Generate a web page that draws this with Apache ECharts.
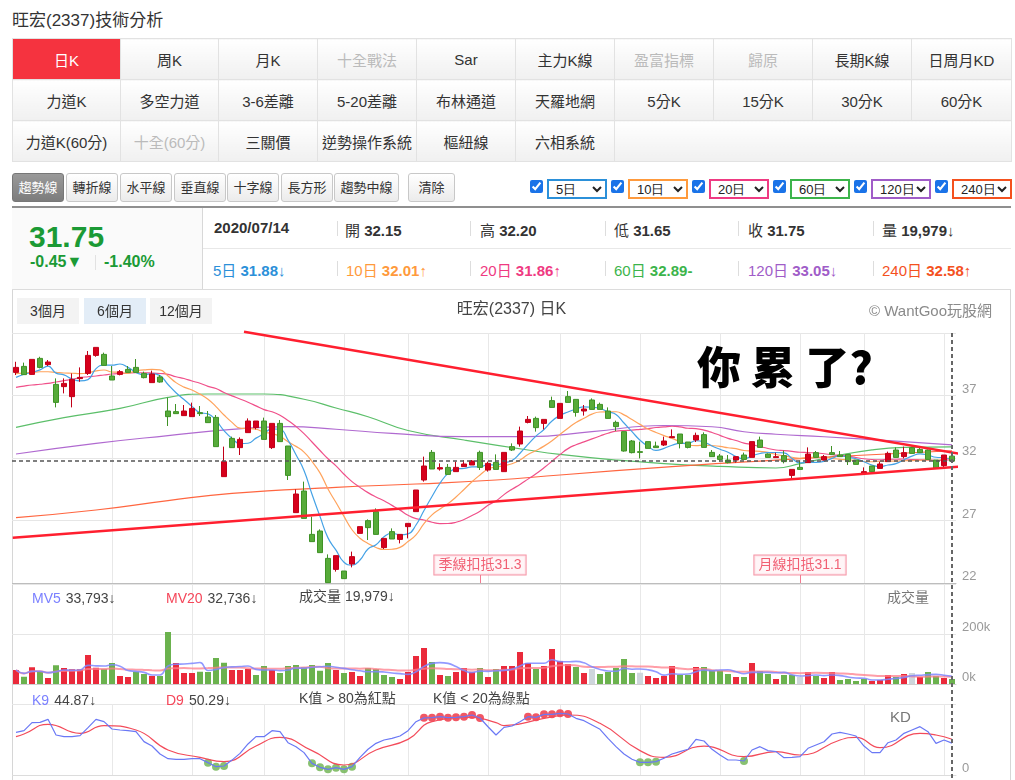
<!DOCTYPE html>
<html>
<head>
<meta charset="utf-8">
<title>旺宏(2337)技術分析</title>
<script src="https://cdn.jsdelivr.net/npm/echarts@6.0.0/dist/echarts.min.js"></script>
<style>
  body { margin: 0; background: #fff; color: #333; font-family: Arial, "Liberation Sans", "Noto Sans CJK TC", sans-serif; }
  .abs { position: absolute; }
  #pageTitle { left: 12px; top: 6px; font-size: 17px; color: #333; }
  table.nav { position: absolute; left: 12px; top: 38px; width: 999px; border-collapse: collapse; table-layout: fixed; border: 1px solid #c9c9c9; }
  .nav td { height: 40px; padding: 0; border: 1px solid #e2e2e2; text-align: center; font-size: 15px; color: #333; background: linear-gradient(#fff, #f0f0f0); }
  .nav td.on { background: #f5333f; color: #fff; }
  .nav td.off { color: #bbb; }
  .nav td.blank { border-left: none; }
  .tool { position: absolute; top: 173px; height: 27px; line-height: 27px; border: 1px solid #c8c8c8; border-radius: 3px; background: linear-gradient(#fff, #ebebeb); font-size: 13px; text-align: center; color: #333; }
  .tool.on { background: linear-gradient(#9a9a9a, #7c7c7c); color: #fff; border-color: #777; }
  .chk { position: absolute; top: 180px; width: 13px; height: 13px; margin: 0; accent-color: #1a73e8; }
  .sel { position: absolute; top: 179px; width: 60px; height: 20px; font-size: 13px; padding: 0 0 0 3px; border-radius: 0; background: #fff; color: #222; }
  .info { position: absolute; font-size: 15px; white-space: nowrap; }
  .info b { font-weight: bold; }
  .vdiv { position: absolute; width: 1px; height: 15px; background: #ddd; }
  .rng { position: absolute; top: 298px; width: 62px; height: 26px; line-height: 26px; font-size: 14px; text-align: center; background: #f3f3f3; color: #333; z-index: 3; }
</style>
</head>
<body>
<div id="pageTitle" class="abs">旺宏(2337)技術分析</div>

<table class="nav">
  <colgroup>
    <col style="width:108px"><col style="width:98px"><col style="width:99px"><col style="width:99px"><col style="width:99px">
    <col style="width:99px"><col style="width:99px"><col style="width:99px"><col style="width:99px"><col style="width:100px">
  </colgroup>
  <tr><td class="on">日K</td><td>周K</td><td>月K</td><td class="off">十全戰法</td><td>Sar</td><td>主力K線</td><td class="off">盈富指標</td><td class="off">歸原</td><td>長期K線</td><td>日周月KD</td></tr>
  <tr><td>力道K</td><td>多空力道</td><td>3-6差離</td><td>5-20差離</td><td>布林通道</td><td>天羅地網</td><td>5分K</td><td>15分K</td><td>30分K</td><td>60分K</td></tr>
  <tr><td>力道K(60分)</td><td class="off">十全(60分)</td><td>三關價</td><td>逆勢操作系統</td><td>樞紐線</td><td>六相系統</td><td class="blank" colspan="4"></td></tr>
</table>

<div class="tool on" style="left:12px;width:50px">趨勢線</div>
<div class="tool" style="left:66px;width:50px">轉折線</div>
<div class="tool" style="left:120px;width:50px">水平線</div>
<div class="tool" style="left:174px;width:50px">垂直線</div>
<div class="tool" style="left:227px;width:50px">十字線</div>
<div class="tool" style="left:281px;width:50px">長方形</div>
<div class="tool" style="left:334px;width:63px">趨勢中線</div>
<div class="tool" style="left:408px;width:45px">清除</div>

<input type="checkbox" class="chk" style="left:530px" checked><select class="sel" style="left:547px;border:2px solid #2b90d9"><option>5日</option></select>
<input type="checkbox" class="chk" style="left:611px" checked><select class="sel" style="left:628px;border:2px solid #ff9a3c"><option>10日</option></select>
<input type="checkbox" class="chk" style="left:692px" checked><select class="sel" style="left:709px;border:2px solid #ef3a82"><option>20日</option></select>
<input type="checkbox" class="chk" style="left:773px" checked><select class="sel" style="left:790px;border:2px solid #3cb44b"><option>60日</option></select>
<input type="checkbox" class="chk" style="left:854px" checked><select class="sel" style="left:871px;border:2px solid #a05cc8"><option>120日</option></select>
<input type="checkbox" class="chk" style="left:935px" checked><select class="sel" style="left:952px;border:2px solid #f4511e"><option>240日</option></select>

<div class="abs" style="left:12px;top:206px;width:999px;height:0;border-top:2px solid #8f8f8f"></div>
<div class="abs" style="left:12px;top:208px;width:190px;height:81px;background:#fafafa;border-right:1px solid #d8d8d8"></div>
<div class="abs" style="left:12px;top:289px;width:999px;height:0;border-top:1px solid #dcdcdc"></div>
<div class="abs" style="left:203px;top:248px;width:808px;height:0;border-top:1px solid #e8e8e8"></div>

<div class="info" style="left:29px;top:222px;font-size:30px;line-height:30px;font-weight:bold;color:#1b9a35">31.75</div>
<div class="info" style="left:30px;top:253px;font-size:16px;line-height:18px;font-weight:bold;color:#1b9a35">-0.45▼</div>
<div class="vdiv" style="left:95px;top:255px;background:#e2e2e2"></div>
<div class="info" style="left:104px;top:253px;font-size:16px;line-height:18px;font-weight:bold;color:#1b9a35">-1.40%</div>

<div class="info" style="left:214px;top:219px"><b>2020/07/14</b></div>
<div class="vdiv" style="left:337px;top:221px"></div>
<div class="info" style="left:345px;top:219px">開 <b>32.15</b></div>
<div class="vdiv" style="left:470px;top:221px"></div>
<div class="info" style="left:480px;top:219px">高 <b>32.20</b></div>
<div class="vdiv" style="left:605px;top:221px"></div>
<div class="info" style="left:614px;top:219px">低 <b>31.65</b></div>
<div class="vdiv" style="left:738px;top:221px"></div>
<div class="info" style="left:748px;top:219px">收 <b>31.75</b></div>
<div class="vdiv" style="left:873px;top:221px"></div>
<div class="info" style="left:882px;top:219px">量 <b>19,979</b>↓</div>

<div class="info" style="left:213px;top:259px;color:#2b90d9">5日 <b>31.88</b>↓</div>
<div class="vdiv" style="left:337px;top:261px"></div>
<div class="info" style="left:346px;top:259px;color:#ff9a3c">10日 <b>32.01</b>↑</div>
<div class="vdiv" style="left:470px;top:261px"></div>
<div class="info" style="left:480px;top:259px;color:#ef3a82">20日 <b>31.86</b>↑</div>
<div class="vdiv" style="left:605px;top:261px"></div>
<div class="info" style="left:614px;top:259px;color:#3cb44b">60日 <b>32.89-</b></div>
<div class="vdiv" style="left:738px;top:261px"></div>
<div class="info" style="left:748px;top:259px;color:#a05cc8">120日 <b>33.05</b>↓</div>
<div class="vdiv" style="left:873px;top:261px"></div>
<div class="info" style="left:882px;top:259px;color:#f4511e">240日 <b>32.58</b>↑</div>

<div class="abs" style="left:12px;top:290px;width:997px;height:490px;border-left:1px solid #d6d6d6;border-right:1px solid #d6d6d6"></div>
<div id="chart" class="abs" style="left:12px;top:291px;width:999px;height:489px"></div>
<div class="rng" style="left:17px">3個月</div>
<div class="rng" style="left:84px;background:#e3edf7">6個月</div>
<div class="rng" style="left:150px">12個月</div>

<script>
// daily K, oldest first (6 months up to 2020/07/14)
const opens = [38.85,39.33,38.69,39.97,39.47,37.89,37.71,36.91,38.35,38.77,
  40.21,40.29,38.56,38.69,39.09,39.25,38.77,38.03,38.48,35.76,
  35.71,35.39,35.31,35.63,35.28,35.25,30.51,33.57,32.83,34.03,
  34.43,34.96,32.83,34.77,32.96,27.63,29.36,25.89,26.16,23.97,
  23.09,22.96,23.52,25.97,26.99,27.71,24.83,26.11,25.49,26.51,
  27.71,30.24,32.45,31.12,31.25,30.91,31.31,31.44,32.45,31.04,
  31.65,30.91,32.91,33.12,34.85,35.17,34.77,36.59,35.17,36.91,
  36.69,35.76,36.64,36.29,35.76,34.85,34.11,33.36,32.51,33.31,
  32.96,33.04,33.63,33.92,33.28,33.44,33.87,32.45,32.16,31.84,
  31.84,32.24,32.05,33.44,32.32,32.03,32.19,30.61,31.25,31.63,
  32.43,31.84,32.43,32.24,32.29,31.84,30.77,31.36,31.17,31.71,
  32.64,32.11,32.83,32.69,32.64,31.84,31.39,32.15];
const closes = [39.25,38.67,39.89,39.25,39.68,36.45,37.97,38.29,38.45,40.21,
  40.85,39.41,38.24,38.91,38.85,38.85,38.43,38.72,38.08,35.31,
  35.55,35.76,35.97,35.55,34.83,32.91,31.71,32.83,33.49,34.96,
  34.96,33.49,34.77,33.31,30.61,29.12,27.17,25.31,24.43,22.03,
  24.19,22.35,24.11,26.51,26.43,25.89,25.57,25.52,25.89,26.77,
  29.44,31.36,31.12,31.23,30.69,31.25,31.52,31.76,31.25,31.57,
  31.09,32.45,32.64,34.16,35.09,34.43,35.09,36.05,36.37,36.45,
  35.65,35.92,35.89,35.89,35.17,34.51,32.56,32.43,32.45,32.77,
  32.83,33.36,33.71,33.17,32.85,33.81,32.85,32.11,31.89,31.63,
  32.11,31.89,33.31,32.85,32.05,32.11,31.71,31.09,31.09,32.32,
  32.05,32.11,32.29,32.11,31.71,31.49,30.91,30.91,31.52,32.37,
  32.05,32.43,32.37,32.43,31.89,31.17,32.24,31.75];
const lows = [38.64,38.67,38.65,39.17,39.36,36.05,37.17,36.05,38.10,38.64,
  40.10,39.41,38.24,38.61,38.85,38.85,38.37,38.03,38.03,34.56,
  35.55,35.39,35.31,35.36,34.83,32.91,30.51,32.83,32.24,34.03,
  34.29,33.49,32.72,33.31,30.24,27.63,27.17,25.31,24.43,22.03,
  22.91,22.35,23.25,25.97,25.44,25.89,24.72,25.52,25.17,25.57,
  27.71,30.11,31.12,30.99,30.69,30.91,31.31,31.44,31.04,30.91,
  31.09,30.91,32.56,32.91,34.77,34.11,34.29,36.05,35.17,36.45,
  35.31,35.39,35.89,35.89,35.17,34.16,32.51,32.37,31.97,32.77,
  32.83,32.96,33.63,32.77,32.77,33.28,32.85,32.11,31.71,31.57,
  31.63,31.89,32.05,32.85,32.05,32.03,31.57,30.40,31.04,31.63,
  32.05,31.79,32.24,32.11,31.44,31.49,30.64,30.91,31.17,31.71,
  32.05,31.97,32.37,32.43,31.89,31.17,31.25,31.65];
const highs = [39.70,39.63,39.90,40.10,39.84,38.37,38.37,38.77,39.25,40.56,
  40.85,40.43,39.36,39.04,39.36,39.92,38.91,38.99,38.64,36.83,
  36.32,36.24,36.43,36.16,35.76,35.44,32.91,33.71,33.65,35.17,
  34.96,35.23,34.77,35.04,32.96,29.49,30.11,27.31,26.29,24.29,
  24.19,22.96,24.51,26.51,27.09,27.97,25.57,26.37,25.89,26.77,
  29.44,32.11,32.64,31.57,31.52,31.71,31.84,31.84,32.59,31.71,
  32.29,32.45,33.17,34.51,35.36,35.31,35.09,36.91,36.37,37.36,
  36.69,36.24,36.77,36.43,36.05,34.99,34.11,33.44,33.31,33.31,
  33.31,33.71,34.29,33.92,33.28,34.03,34.05,32.64,32.32,32.24,
  32.11,32.43,33.31,33.71,32.37,32.43,32.59,31.09,31.79,32.85,
  32.56,32.24,32.96,32.56,32.29,31.84,31.25,31.36,31.71,32.51,
  32.85,32.91,32.91,32.83,32.69,31.84,32.24,32.20];

// volume in thousands of shares, colour vs previous close (r up, g down, n flat)
const volumes = [56,29,67,51,24,75,64,59,59,116,
  65,60,84,32,28,49,40,32,32,208,
  84,44,44,49,48,104,85,56,56,60,
  36,72,56,44,72,76,67,76,53,84,
  56,44,48,32,64,60,36,28,20,48,
  112,144,88,36,32,48,64,49,64,28,
  60,72,72,128,84,60,72,140,92,80,
  68,44,60,40,48,64,100,44,45,32,
  24,32,72,36,36,68,68,56,53,40,
  28,28,84,52,40,20,36,36,28,48,
  32,24,48,16,20,12,20,12,16,36,
  28,40,44,28,48,32,24,19.979];
const volColors = ('rgrgrgrrrr' + 'rggrrggrgg' + 'rrrggggrrr' + 'ggrggggggg' + 'rgrrggggrr' +
  'rrgrgrrrgr' + 'grrrrgrrrr' + 'grngggggnr' + 'rrrggrgggg' + 'rgrggrggnr' +
  'grrggggrrr' + 'grnrggrg').split('');

// moving averages: first points (window not yet full)
const ma5Head = [38.45, 38.7, 38.85, 39.05];
const ma10Head = [38.75, 38.8, 38.85, 38.9, 38.9, 38.85, 38.8, 38.78, 38.75];
const ma20Head = [37.65, 37.75, 37.84, 37.9, 37.97, 38.08, 38.19, 38.3, 38.43, 38.5,
  38.56, 38.64, 38.72, 38.76, 38.8, 38.82, 38.82, 38.8, 38.76];
// long averages: [day index, value]
const ma60Pts = [[0,34.45],[6,35.23],[13,35.97],[19,36.85],[24,37.12],[31,37.12],[36,36.7],[40,36.0],
  [44,35.3],[49,34.2],[56,33.44],[64,32.64],[68,32.29],[75,31.84],[81,31.55],[88,31.33],[95,31.2],
  [98,31.55],[102,32.1],[107,32.65],[111,32.85],[117,32.89]];
const ma120Pts = [[0,32.32],[10,33.17],[19,33.79],[27,34.29],[34,34.51],[40,34.3],[47,33.97],[56,33.71],
  [64,33.71],[72,34.11],[81,34.6],[87,34.5],[91,34.1],[95,33.9],[101,33.7],[110,33.35],[117,33.05]];
const ma240Pts = [[0,27.23],[10,27.84],[19,28.59],[27,29.17],[40,29.65],[50,29.92],[60,30.24],[68,30.64],
  [82,31.31],[93,31.75],[105,32.2],[117,32.58]];

// KD (9)
const kValues = [60,62.4,73.7,74.2,78.4,56.3,54,54,55.4,66.7,
  78.4,75.1,64.8,63.4,62.4,61,47,40.8,29.6,23,
  22.1,22.1,23,23,17.4,11.7,12.7,21,30.5,43.7,
  54,54,62.4,61,45.5,39.9,31.5,16.4,10.8,8,
  10.3,8,11.7,24.9,36.2,44.6,49.3,51.6,54.9,62.4,
  75.1,80.5,80.8,82.2,80.8,81.2,82.2,84.5,80.3,68,
  56.3,67.1,69,75.1,82.2,81.2,85.4,85.4,86.9,85.9,
  79.8,76.5,70.4,64.3,51.6,39.9,29.6,22.1,17.8,17.8,
  18.8,23.5,29.6,32.9,36.2,50.2,47.9,36.2,28.2,21.1,
  21.1,19.7,35.2,39.9,34.3,32.9,24.4,24.9,25.8,37.6,
  42.3,46.9,57.7,60.1,57.7,54.9,40.8,31.5,31.5,45.5,
  49.3,58.7,63.4,68.1,61,44.6,49.3,44.87];
const dPts = [[0,54],[1,57.7],[4,71.4],[8,58.7],[11,69.5],[15,63.4],[19,35.2],[23,24.9],[26,18.8],
  [30,40.8],[33,53],[37,34.3],[41,14.1],[45,35.2],[49,50.2],[52,75.1],[57,81.2],[60,73.7],[61,69.5],
  [66,79.8],[69,84.5],[73,72.8],[78,34.3],[81,24.9],[86,40.8],[91,25.8],[95,32.9],[98,28.2],
  [103,49.3],[105,53],[108,38.5],[113,58.7],[115,56.3],[117,50.29]];

// half-month grid lines, hand-drawn trend lines, MA deduction tags
const splitIdx = [12, 22, 31, 41, 49, 59, 68, 78, 88, 98, 106, 116];
const trendUpper = [[28.5, 42.1], [124.5, 31.62]];
const trendLower = [[-0.41, 25.62], [124.5, 31.62]];
const deductIdx = [58, 98];
const deductText = ['季線扣抵31.3', '月線扣抵31.1'];
const lastClose = 31.75;

const FONT = 'Arial, "Liberation Sans", "Noto Sans CJK TC", sans-serif';
const cats = closes.map((c, i) => String(i));

const movingAvg = (arr, n, head) => arr.map((v, i) => {
  if (i < n - 1) return head ? head[i] : +(arr.slice(0, i + 1).reduce((a, b) => a + b, 0) / (i + 1)).toFixed(2);
  return +(arr.slice(i - n + 1, i + 1).reduce((a, b) => a + b, 0) / n).toFixed(2);
});

const volPalette = { r: '#ea2a3b', g: '#6bb24e', n: '#ced6dc' };

const chart = echarts.init(document.getElementById('chart'));

const catAxis = (grid, lineColor) => ({
  type: 'category', gridIndex: grid, data: cats, boundaryGap: true,
  axisLine: { lineStyle: { color: lineColor } }, axisTick: { show: false }, axisLabel: { show: false },
  splitLine: { show: true, alignWithLabel: true, interval: (i) => splitIdx.indexOf(i) >= 0, lineStyle: { color: '#e8e8e8' } }
});
const valAxisLabel = { margin: 6, color: '#9a9a9a', fontSize: 13, fontFamily: FONT, verticalAlign: 'bottom', showMaxLabel: false };

const head = (left, top, text, rich) => ({ left, top, padding: 0, text, textStyle: { fontFamily: FONT, fontWeight: 'normal', rich } });

const option = {
  animation: false,
  title: [
    { left: 'center', top: 11, padding: 0, text: '旺宏(2337) 日K', textStyle: { fontFamily: FONT, fontSize: 16, fontWeight: 'normal', color: '#444' } },
    { right: 19, top: 13, padding: 0, text: '© WantGoo玩股網', textStyle: { fontFamily: FONT, fontSize: 15, fontWeight: 'normal', color: '#8a8a8a' } },
    { left: 685, top: 54, padding: 0, text: '你 累 了?', textStyle: { fontFamily: '"Noto Sans CJK TC"', fontSize: 44, fontWeight: 900, color: '#000' } },
    head(20, 299, '{a|MV5} {b|33,793↓}', { a: { color: '#7b80ff', fontSize: 14, fontFamily: FONT }, b: { color: '#444', fontSize: 14, fontFamily: FONT } }),
    head(154, 299, '{a|MV20} {b|32,736↓}', { a: { color: '#f5475a', fontSize: 14, fontFamily: FONT }, b: { color: '#444', fontSize: 14, fontFamily: FONT } }),
    head(287, 299, '{b|成交量 19,979↓}', { b: { color: '#444', fontSize: 14, fontFamily: FONT } }),
    head(875, 300, '{b|成交量}', { b: { color: '#777', fontSize: 14, fontFamily: FONT } }),
    head(20, 401, '{a|K9} {b|44.87↓}', { a: { color: '#7b80ff', fontSize: 14, fontFamily: FONT }, b: { color: '#444', fontSize: 14, fontFamily: FONT } }),
    head(154, 401, '{a|D9} {b|50.29↓}', { a: { color: '#f5475a', fontSize: 14, fontFamily: FONT }, b: { color: '#444', fontSize: 14, fontFamily: FONT } }),
    head(287, 401, '{b|K值 > 80為紅點}', { b: { color: '#444', fontSize: 14, fontFamily: FONT } }),
    head(421, 401, '{b|K值 < 20為綠點}', { b: { color: '#444', fontSize: 14, fontFamily: FONT } }),
    head(878, 419, '{b|KD}', { b: { color: '#777', fontSize: 15, fontFamily: FONT } })
  ],
  grid: [
    { left: 0, top: 42, width: 944, height: 250 },
    { left: 0, top: 293, width: 944, height: 100 },
    { left: 0, top: 413, width: 944, height: 71 }
  ],
  xAxis: [
    catAxis(0, '#bdbdbd'),
    catAxis(1, '#cfcfcf'),
    catAxis(2, '#dcdcdc'),
    { type: 'value', gridIndex: 0, min: -0.5, max: closes.length - 0.5, show: false },
    { type: 'value', gridIndex: 2, min: -0.5, max: closes.length - 0.5, show: false }
  ],
  yAxis: [
    { type: 'value', gridIndex: 0, position: 'right', min: 22, max: 42, interval: 5,
      axisLine: { show: false }, axisTick: { show: false }, axisLabel: valAxisLabel,
      splitLine: { lineStyle: { color: '#e6e6e6' } } },
    { type: 'value', gridIndex: 1, position: 'right', min: 0, max: 400, interval: 200,
      axisLine: { show: false }, axisTick: { show: false },
      axisLabel: Object.assign({}, valAxisLabel, { formatter: (v) => v + 'k' }),
      splitLine: { lineStyle: { color: '#e6e6e6' } } },
    { type: 'value', gridIndex: 2, position: 'right', min: 0, max: 100, interval: 100,
      axisLine: { show: false }, axisTick: { show: false }, axisLabel: valAxisLabel,
      splitLine: { lineStyle: { color: '#e6e6e6' } } }
  ],
  series: [
    { name: '60日', type: 'line', xAxisIndex: 3, yAxisIndex: 0, data: ma60Pts, smooth: true, symbol: 'none',
      lineStyle: { color: '#5cbf6a', width: 1.2 }, z: 2 },
    { name: '120日', type: 'line', xAxisIndex: 3, yAxisIndex: 0, data: ma120Pts, smooth: true, symbol: 'none',
      lineStyle: { color: '#b06ad0', width: 1.2 }, z: 2 },
    { name: '240日', type: 'line', xAxisIndex: 3, yAxisIndex: 0, data: ma240Pts, smooth: true, symbol: 'none',
      lineStyle: { color: '#ff6640', width: 1.2 }, z: 2 },
    { name: '20日', type: 'line', xAxisIndex: 0, yAxisIndex: 0, data: movingAvg(closes, 20, ma20Head), smooth: true, symbol: 'none',
      lineStyle: { color: '#f0508a', width: 1.2 }, z: 2 },
    { name: '10日', type: 'line', xAxisIndex: 0, yAxisIndex: 0, data: movingAvg(closes, 10, ma10Head), smooth: true, symbol: 'none',
      lineStyle: { color: '#ffa35c', width: 1.2 }, z: 2 },
    { name: '5日', type: 'line', xAxisIndex: 0, yAxisIndex: 0, data: movingAvg(closes, 5, ma5Head), smooth: true, symbol: 'none',
      lineStyle: { color: '#45a2e6', width: 1.2 }, z: 2 },
    { name: '日K', type: 'candlestick', xAxisIndex: 0, yAxisIndex: 0, barWidth: 6, z: 3,
      data: opens.map((o, i) => [o, closes[i], lows[i], highs[i]]),
      itemStyle: { color: '#d6001c', color0: '#57ab3a', borderColor: '#c20018', borderColor0: '#3f9226', borderWidth: 1 },
      markLine: { silent: true, symbol: 'none', label: { show: false },
        lineStyle: { type: [4, 3], color: '#555', width: 1.5 }, data: [{ yAxis: lastClose }] } },
    { name: 'trendUpper', type: 'line', xAxisIndex: 3, yAxisIndex: 0, data: trendUpper, symbol: 'none', clip: false,
      lineStyle: { color: '#ff1f2f', width: 2.5 }, z: 6 },
    { name: 'trendLower', type: 'line', xAxisIndex: 3, yAxisIndex: 0, data: trendLower, symbol: 'none', clip: false,
      lineStyle: { color: '#ff1f2f', width: 2.5 }, z: 6 },
    { name: 'deduct', type: 'scatter', xAxisIndex: 3, yAxisIndex: 0, symbolSize: 1, z: 7,
      itemStyle: { color: 'rgba(0,0,0,0)' },
      data: deductIdx.map((d, i) => ({ value: [d, 22], label: { formatter: deductText[i] } })),
      label: { show: true, position: 'top', distance: 8, color: '#ee3a52', fontSize: 14, fontFamily: FONT,
        backgroundColor: '#fff3f5', borderColor: '#f27b90', borderWidth: 1, padding: [3, 4, 2, 4] },
      markLine: { silent: true, symbol: 'none', label: { show: false }, lineStyle: { color: '#f27b90', width: 1, type: 'solid' },
        data: deductIdx.map((d) => [{ coord: [d, 22] }, { coord: [d, 22.64] }]) } },
    { name: '成交量', type: 'bar', xAxisIndex: 1, yAxisIndex: 1, barWidth: 6,
      data: volumes.map((v, i) => ({ value: v, itemStyle: { color: volPalette[volColors[i]] } })) },
    { name: 'MV20', type: 'line', xAxisIndex: 1, yAxisIndex: 1, data: movingAvg(volumes, 20), smooth: true, symbol: 'none',
      lineStyle: { color: '#ff7d8b', width: 2, opacity: 0.75 } },
    { name: 'MV5', type: 'line', xAxisIndex: 1, yAxisIndex: 1, data: movingAvg(volumes, 5), smooth: true, symbol: 'none',
      lineStyle: { color: '#7f87ff', width: 1.6, opacity: 0.85 } },
    { name: 'D9', type: 'line', xAxisIndex: 4, yAxisIndex: 2, data: dPts, smooth: true, symbol: 'none',
      lineStyle: { color: '#f34b5a', width: 1.2 } },
    { name: 'K9', type: 'line', xAxisIndex: 2, yAxisIndex: 2, data: kValues, symbol: 'none',
      lineStyle: { color: '#6a78f5', width: 1.2 } },
    { name: 'K>80', type: 'scatter', xAxisIndex: 4, yAxisIndex: 2, symbolSize: 8, itemStyle: { color: '#ee2d3d' },
      data: kValues.map((v, i) => [i, v]).filter((p) => p[1] > 80) },
    { name: 'K<20', type: 'scatter', xAxisIndex: 4, yAxisIndex: 2, symbolSize: 8, itemStyle: { color: '#6bb24e' },
      data: kValues.map((v, i) => [i, v]).filter((p) => p[1] < 20) }
  ]
};

chart.setOption(option);

// crosshair on the last day, through all three panes
const lastX = chart.convertToPixel({ xAxisIndex: 3 }, closes.length - 1);
chart.setOption({
  graphic: [{ type: 'line', silent: true, z: 10,
    shape: { x1: lastX, y1: 42, x2: lastX, y2: 489 },
    style: { stroke: '#666', lineWidth: 2, lineDash: [4, 3] } }]
});
</script>
</body>
</html>
